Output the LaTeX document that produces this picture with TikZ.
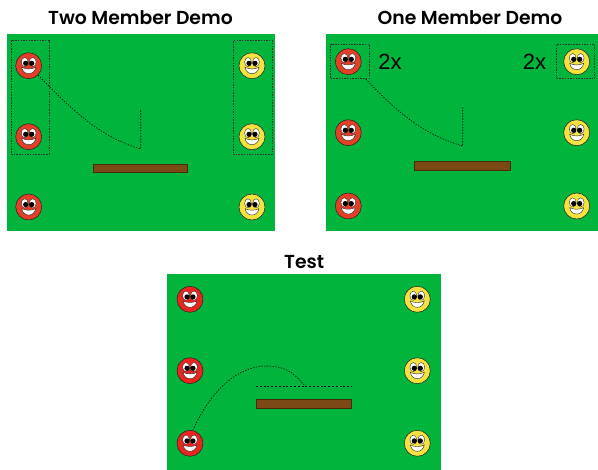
\documentclass[tikz,border=0pt]{standalone}
\usepackage{fontspec}
\setmainfont{Poppins}[BoldFont = Poppins SemiBold]
\newfontfamily\labelfont{Liberation Sans}
\definecolor{field}{RGB}{0,180,60}
\definecolor{facered}{RGB}{228,62,38}
\definecolor{brightred}{RGB}{236,36,32}
\definecolor{faceyellow}{RGB}{246,226,62}
\definecolor{plank}{RGB}{123,74,20}
\definecolor{plankedge}{RGB}{70,45,10}
\tikzset{
  face/.style={circle, draw=black!85, line width=0.55pt, fill=#1,
    minimum size=26pt, inner sep=0pt,
    path picture={
      \begin{scope}[shift={(path picture bounding box.center)}, x=1pt, y=1pt]
        \draw[fill=white, line width=0.35pt] (-4.0,3.6) ellipse (3.4 and 4.6);
        \draw[fill=white, line width=0.35pt] (4.0,3.6) ellipse (3.4 and 4.6);
        \fill[black] (-3.0,2.4) circle (2.6);
        \fill[black] (3.0,2.4) circle (2.6);
        \draw[fill=white, line width=0.4pt] (-7,-1.6) .. controls (-5.5,-10.2) and (5.5,-10.2) .. (7,-1.6)
          .. controls (3,-3.8) and (-3,-3.8) .. cycle;
      \end{scope}}},
  bar/.style={rectangle, draw=plankedge, line width=0.6pt, fill=plank, inner sep=0pt},
  groupbox/.style={rectangle, draw=black!80, line width=0.5pt, dash pattern=on 1.5pt off 1.2pt, inner sep=0pt},
  title/.style={anchor=base, font=\bfseries\fontsize{18.8}{20}\selectfont},
  count/.style={anchor=base, font=\labelfont\fontsize{22}{24}\selectfont},
  path/.style={draw=black, line width=0.6pt, dash pattern=on 1.4pt off 1.4pt},
  guide/.style={draw=black, line width=0.7pt, dash pattern=on 2pt off 1.8pt},
}
\begin{document}
\begin{tikzpicture}[x=1pt, y=-1pt]
  \useasboundingbox (0,0) rectangle (598,470);

  % playing fields
  \fill[field] (7,34) rectangle (275.3,231.5);
  \fill[field] (325.7,34) rectangle (598,231.5);
  \fill[field] (167.3,274.5) rectangle (440.7,470);

  % titles
  \node[title] (t1) at (140.5,25) {Two Member Demo};
  \node[title] (t2) at (470,25) {One Member Demo};
  \node[title] (t3) at (304.2,268.3) {Test};

  % --- two member demo ---
  \node[groupbox, minimum width=38pt, minimum height=113.3pt] (g11) at (30,97.3) {};
  \node[groupbox, minimum width=39pt, minimum height=113.3pt] (g12) at (252.5,97.3) {};
  \node[face=facered] (r11) at (28.7,65.7) {};
  \node[face=facered] (r12) at (28.7,136.7) {};
  \node[face=facered] (r13) at (28.7,207) {};
  \node[face=faceyellow] (y11) at (252,65.7) {};
  \node[face=faceyellow] (y12) at (252,136.7) {};
  \node[face=faceyellow] (y13) at (252,207) {};
  \node[bar, minimum width=94pt, minimum height=8.7pt] (b1) at (140.7,168.3) {};
  \coordinate (v1top) at (140.7,109);
  \coordinate (v1bot) at (140.7,149);
  \draw[path] (r11.south east) .. controls (75,113) and (100.7,137) .. (v1bot) -- (v1top);

  % --- one member demo ---
  \node[groupbox, minimum width=38.6pt, minimum height=34pt] (g21) at (350,61.3) {};
  \node[groupbox, minimum width=38pt, minimum height=34pt] (g22) at (575.7,61.3) {};
  \node[face=facered] (r21) at (348.3,61.7) {};
  \node[face=facered] (r22) at (348.3,132.7) {};
  \node[face=facered] (r23) at (348.3,206) {};
  \node[face=faceyellow] (y21) at (576.7,61.7) {};
  \node[face=faceyellow] (y22) at (576.7,132.7) {};
  \node[face=faceyellow] (y23) at (576.7,206) {};
  \node[count] (n21) at (390,69.3) {2x};
  \node[count] (n22) at (534.5,69.3) {2x};
  \node[bar, minimum width=96.4pt, minimum height=9pt] (b2) at (462.5,166.2) {};
  \coordinate (s2) at (365.7,79);
  \coordinate (v2top) at (462.7,106);
  \coordinate (v2bot) at (462.7,146);
  \draw[path] (s2) .. controls (398.7,114) and (424.7,135) .. (v2bot) -- (v2top);

  % --- test ---
  \node[face=brightred] (r31) at (190,299.3) {};
  \node[face=brightred] (r32) at (190,370.7) {};
  \node[face=brightred] (r33) at (190,443.3) {};
  \node[face=faceyellow] (y31) at (417.3,299.3) {};
  \node[face=faceyellow] (y32) at (417.3,370.7) {};
  \node[face=faceyellow] (y33) at (417.3,443.3) {};
  \node[bar, minimum width=95.7pt, minimum height=9pt] (b3) at (303.8,403.8) {};
  \coordinate (h3a) at (256,386);
  \coordinate (h3b) at (351.7,386);
  \coordinate (peak) at (266.7,366);
  \coordinate (land) at (305,386);
  \draw[guide] (h3a) -- (h3b);
  \draw[path] (r33.78) .. controls (211,390) and (238,366) .. (peak)
    .. controls (289,366) and (297,377) .. (land);
\end{tikzpicture}
\end{document}
